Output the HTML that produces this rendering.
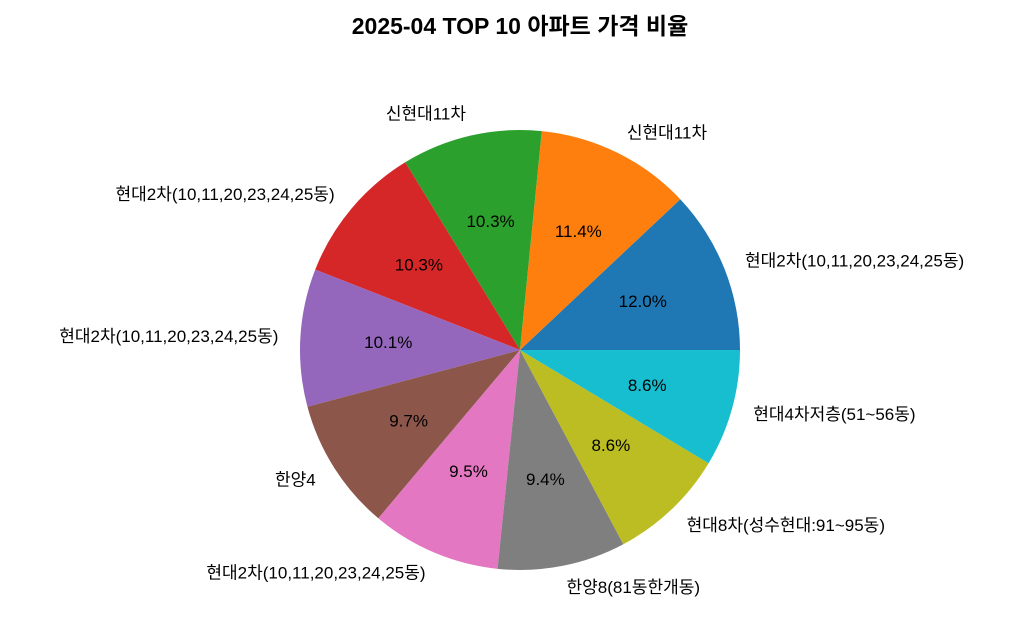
<!DOCTYPE html>
<html><head><meta charset="utf-8">
<style>
html,body{margin:0;padding:0;background:#fff;width:1024px;height:639px;overflow:hidden}
svg text{font-family:"Liberation Sans","Noto Sans CJK KR",sans-serif}
</style></head>
<body>
<svg id="chart" width="1024" height="639" viewBox="0 0 1024 639">
<text x="520" y="34" text-anchor="middle" font-size="23" font-weight="bold">2025-04 TOP 10 아파트 가격 비율</text>
<g id="slices"></g>
<g id="labels"></g>
</svg>
<script>
const categories = ["현대2차(10,11,20,23,24,25동)","신현대11차","신현대11차","현대2차(10,11,20,23,24,25동)","현대2차(10,11,20,23,24,25동)","한양4","현대2차(10,11,20,23,24,25동)","한양8(81동한개동)","현대8차(성수현대:91~95동)","현대4차저층(51~56동)"];
const values = [12.0, 11.4, 10.3, 10.3, 10.1, 9.7, 9.5, 9.4, 8.6, 8.6];
const colors = ["#1f77b4","#ff7f0e","#2ca02c","#d62728","#9467bd","#8c564b","#e377c2","#7f7f7f","#bcbd22","#17becf"];
const cx = 520, cy = 350, R = 220;
const NS = "http://www.w3.org/2000/svg";
const total = values.reduce((a,b)=>a+b,0);
const gS = document.getElementById("slices"), gL = document.getElementById("labels");
let a0 = 0;
values.forEach((v,i)=>{
  const a1 = a0 + v/total*2*Math.PI;
  const x0 = cx+R*Math.cos(a0), y0 = cy-R*Math.sin(a0);
  const x1 = cx+R*Math.cos(a1), y1 = cy-R*Math.sin(a1);
  const large = (a1-a0)>Math.PI?1:0;
  const p = document.createElementNS(NS,"path");
  p.setAttribute("d",`M${cx},${cy} L${x0},${y0} A${R},${R} 0 ${large} 0 ${x1},${y1} Z`);
  p.setAttribute("fill",colors[i]);
  
  
  gS.appendChild(p);
  const m = (a0+a1)/2, c = Math.cos(m), s = Math.sin(m);
  const t = document.createElementNS(NS,"text");
  t.setAttribute("x", cx+1.1*R*c);
  t.setAttribute("y", cy-1.1*R*s);
  t.setAttribute("text-anchor", c>=0?"start":"end");
  t.setAttribute("dominant-baseline","central");
  t.setAttribute("font-size","17");
  t.textContent = categories[i];
  
  
  gL.appendChild(t);
  const pt = document.createElementNS(NS,"text");
  pt.setAttribute("x", cx+0.6*R*c);
  pt.setAttribute("y", cy-0.6*R*s);
  pt.setAttribute("text-anchor","middle");
  pt.setAttribute("dominant-baseline","central");
  pt.setAttribute("font-size","17");
  pt.textContent = v.toFixed(1)+"%";
  
  
  gL.appendChild(pt);
  a0 = a1;
});
</script>
</body></html>
